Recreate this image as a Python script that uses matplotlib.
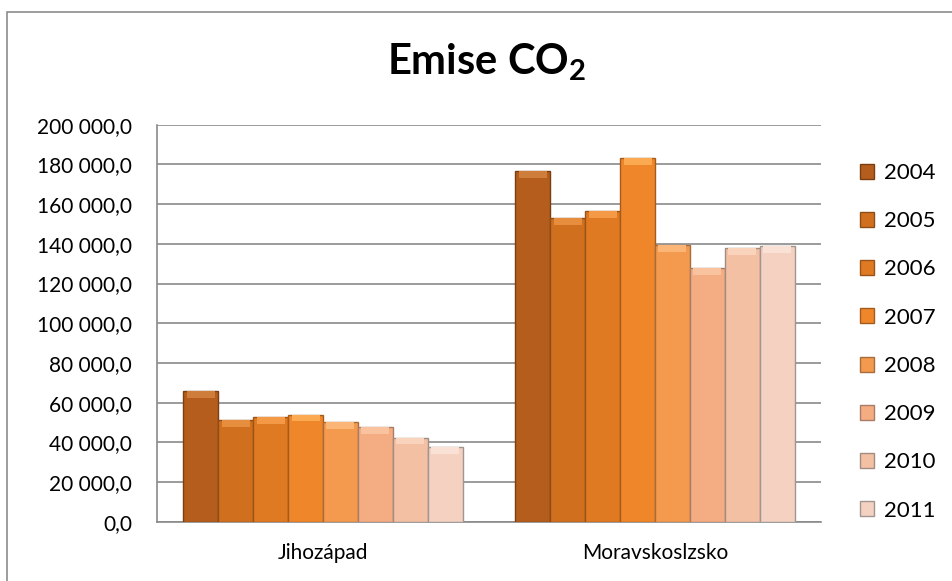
import numpy as np
import matplotlib
matplotlib.use("Agg")
import matplotlib.pyplot as plt
from matplotlib.patches import Rectangle
from matplotlib.ticker import FuncFormatter

plt.rcParams["font.family"] = ["Lato", "DejaVu Sans"]

regions = ["Jihozápad", "Moravskoslzsko"]
years = ["2004", "2005", "2006", "2007", "2008", "2009", "2010", "2011"]
# emise po letech, [Jihozápad, Moravskoslezsko]
emise = {
    "2004": [66000, 176800],
    "2005": [51300, 153100],
    "2006": [52800, 156600],
    "2007": [54000, 183400],
    "2008": [50300, 139500],
    "2009": [47900, 127900],
    "2010": [42400, 138000],
    "2011": [37800, 139000],
}
colors = ["#B45D1C", "#D0701F", "#E07A22", "#F0862A",
          "#F49A4E", "#F4AC82", "#F3C0A3", "#F4D1C1"]
tops = ["#CF7D3A", "#E78D3E", "#F49A46", "#FCAA52",
        "#FBB577", "#FAC3A0", "#FAD3BC", "#FAE1D5"]
edges = ["#7A3E12", "#8E4C16", "#9A5418", "#A45C1C",
         "#A86C3C", "#A87C66", "#A08C80", "#A09590"]

fig = plt.figure(figsize=(9.52, 5.81), dpi=100)
fig.patches.append(Rectangle((7 / 952, -0.1), 1.2, 1.1 - 12 / 581,
                             transform=fig.transFigure, fill=False,
                             edgecolor="#8c8c8c", linewidth=1.2))

ax = fig.add_axes([157 / 952, 59.3 / 581, 664 / 952, 397 / 581])

x = np.arange(len(regions))
w = 0.1054
band = 3500
for i, yr in enumerate(years):
    off = (i - (len(years) - 1) / 2) * w
    vals = np.array(emise[yr])
    ax.bar(x + off, vals, width=w, color=colors[i], edgecolor=edges[i],
           linewidth=1.0, label=yr, zorder=3)
    # light bevel along the top of each bar
    ax.bar(x + off, band, bottom=vals - band, width=w * 0.8,
           color=tops[i], linewidth=0, zorder=4)

ax.set_xlim(-0.5, 1.5)
ax.set_ylim(0, 200000)
ax.set_yticks(np.arange(0, 200001, 20000))
ax.yaxis.set_major_formatter(
    FuncFormatter(lambda v, p: f"{v:,.1f}".replace(",", " ").replace(".", ",")))
ax.set_xticks(x)
ax.set_xticklabels(regions)
ax.tick_params(axis="both", length=0, labelsize=15, colors="black")
ax.tick_params(axis="y", pad=18)
ax.tick_params(axis="x", pad=15)
ax.grid(axis="y", color="#8a8a8a", linewidth=1.2, zorder=0)
for s in ["top", "right"]:
    ax.spines[s].set_visible(False)
for s in ["left", "bottom"]:
    ax.spines[s].set_color("#8a8a8a")
    ax.spines[s].set_linewidth(1.2)

fig.text(487 / 952, 1 - 62 / 581, r"Emise CO$_\mathregular{2}$", ha="center",
         va="center", fontsize=30, fontweight="bold")

ax.legend(loc="upper left", bbox_to_anchor=(860 / 952, 1 - 163 / 581),
          bbox_transform=fig.transFigure, frameon=False, fontsize=16,
          handlelength=0.65, handleheight=0.65, handletextpad=0.45,
          labelspacing=1.27, borderaxespad=0, borderpad=0)

fig.savefig("out.png", dpi=100)
